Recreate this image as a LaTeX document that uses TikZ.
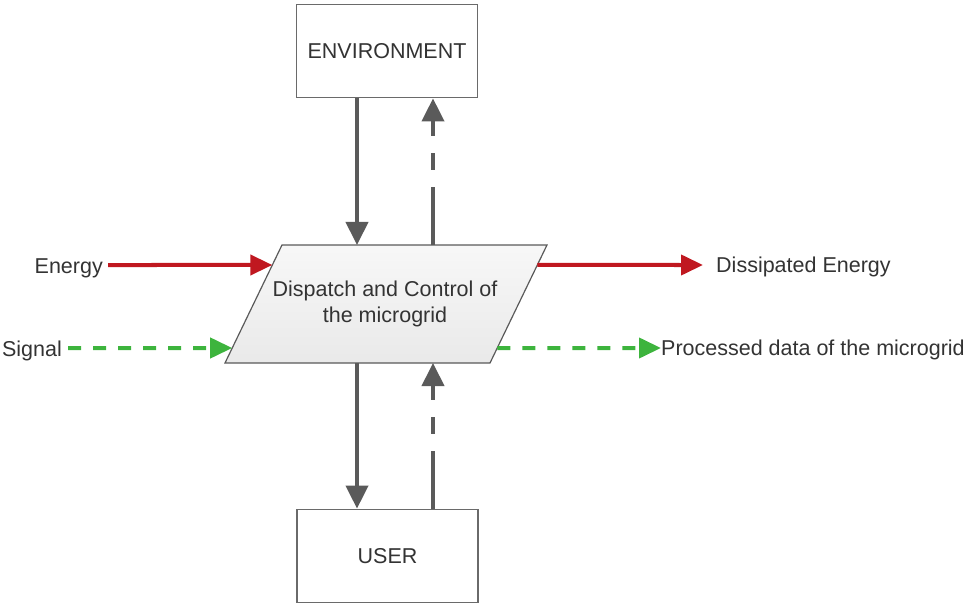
\documentclass[tikz,border=0pt]{standalone}
\usepackage{fontspec}
\setmainfont{Liberation Sans}
\usetikzlibrary{arrows.meta,calc}

\definecolor{linegray}{HTML}{5A5A5A}
\definecolor{boxgray}{HTML}{6A6A6A}
\definecolor{txt}{HTML}{333333}
\definecolor{energyred}{HTML}{C01820}
\definecolor{signalgreen}{HTML}{3DB43D}

\begin{document}
\begin{tikzpicture}[x=1pt,y=-1pt,
  font=\fontsize{21.5}{26.5}\selectfont,
  every node/.style={text=txt},
  box/.style={draw=boxgray, line width=1.8pt, fill=white,
    minimum width=181pt, minimum height=93pt, inner sep=0pt},
  flow/.style={draw=linegray, line width=4pt,
    -{Triangle[length=23pt,width=22pt]}},
  feedback/.style={flow, dash pattern=on 58pt off 17pt on 17pt off 17pt},
  energy/.style={draw=energyred, line width=4pt,
    -{Triangle[length=22pt,width=20pt]}},
  signal/.style={draw=signalgreen, line width=4pt,
    dash pattern=on 13pt off 12pt,
    -{Triangle[length=22pt,width=20pt]}},
  lbl/.style={inner sep=0pt}
]
\useasboundingbox (0,0) rectangle (969,604);

% external boxes
\node[box] (env)  at (387,51)  {ENVIRONMENT};
\node[box] (user) at (387.5,556) {USER};

% central process (parallelogram)
\coordinate (tl) at (282,245);
\coordinate (tr) at (547,245);
\coordinate (br) at (490,363);
\coordinate (bl) at (225,363);
\draw[draw=linegray, line width=1.2pt, top color=gray!6, bottom color=gray!17]
  (tl) -- (tr) -- (br) -- (bl) -- cycle;
\node[align=center, lbl] (dc) at (385,304)
  {Dispatch and Control of\\the microgrid};

% column positions of the vertical connectors
\coordinate (colA) at (357,0);
\coordinate (colB) at (433,0);

\draw[flow]     (env.south -| colA) -- (tl -| colA);
\draw[feedback] (tl -| colB) -- (env.south -| colB);
\draw[flow]     (bl -| colA) -- (user.north -| colA);
\draw[feedback] (user.north -| colB) -- (bl -| colB);

% rows of the side connectors
\coordinate (rowE) at (0,265);
\coordinate (rowS) at (0,348);

% side inputs and outputs
\node[lbl, anchor=base east] (ein) at (103,273) {Energy};
\node[lbl, anchor=base east] (sin) at (62,356) {Signal};
\node[lbl, anchor=base west] (eout) at (716,272) {Dissipated Energy};
\node[lbl, anchor=base west] (sout) at (661,355) {Processed data of the microgrid};

\draw[energy] ([xshift=5pt]ein.east |- rowE) -- ($(tl)!{20/118}!(bl)$);
\draw[signal] ([xshift=6pt]sin.east |- rowS) -- ($(tl)!{103/118}!(bl)$);
\draw[energy] ($(tr)!{20/118}!(br)$) -- ([xshift=-13pt]eout.west |- rowE);
\draw[signal] ($(tr)!{103/118}!(br)$) -- (sout.west |- rowS);
\end{tikzpicture}
\end{document}
